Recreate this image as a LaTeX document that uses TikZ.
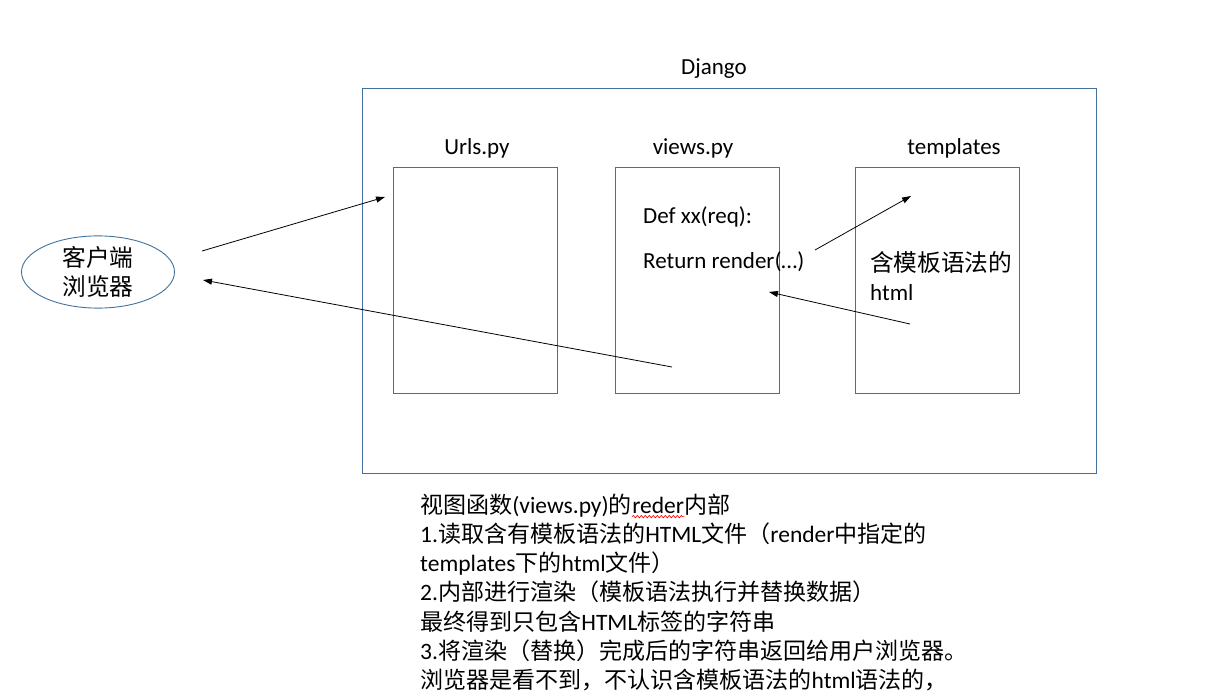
\documentclass[tikz,border=0pt]{standalone}
\usepackage{fontspec}
\setmainfont{Carlito}
\newfontfamily\cjk[Scale=1.03]{Noto Sans CJK SC}
\newfontfamily\cjkb[Scale=0.98]{Noto Sans CJK SC}
\usetikzlibrary{arrows.meta,shapes.geometric,decorations.pathmorphing}
\definecolor{boxblue}{HTML}{41719C}
\newcommand\zh[1]{{\cjk #1}}
\newcommand\zb[1]{{\cjkb #1}}
\tikzset{
  filebox/.style={shape=rectangle, draw=boxblue, line width=0.9pt, inner sep=0, minimum width=164pt, minimum height=226pt},
  title/.style={anchor=center, inner sep=0, font=\fontsize{23}{28}\selectfont},
  code/.style={anchor=west, inner sep=0, font=\fontsize{23}{28}\selectfont},
  wire/.style={-{Triangle[length=9pt,width=6pt]}, line width=0.8pt},
  spellwave/.style={draw=red, line width=0.6pt, decorate, decoration={snake, amplitude=1.2pt, segment length=4pt}},
}
% red spell-check wave under a word
\newcommand\wavyword[1]{\tikz[baseline=(w.base)]{\node[inner sep=0] (w) {#1}; \path[spellwave] ([yshift=-3pt]w.base west) -- ([yshift=-3pt]w.base east);}}
\begin{document}
\begin{tikzpicture}[x=1pt, y=-1pt]
          \useasboundingbox (0, 0) rectangle (1213, 698);
          % Paths, nodes and wires:
          \node[shape=rectangle, draw=boxblue, line width=0.9pt, inner sep=0, minimum width=734pt, minimum height=385pt] (django) at (729, 280.5){};
          \node[title] (djangolbl) at (714, 69){Django};
          \node[filebox] (urls) at (475, 280){};
          \node[filebox] (views) at (697, 280){};
          \node[filebox] (tmpl) at (937, 280){};
          \node[title] (urlslbl) at (477, 148){Urls.py};
          \node[title] (viewslbl) at (693, 148){views.py};
          \node[title] (tmpllbl) at (954, 148){templates};
          \node[shape=ellipse, draw=boxblue, line width=0.9pt, inner sep=0, minimum width=153pt, minimum height=72pt, align=center, font=\fontsize{23}{29}\selectfont] (client) at (98, 272){\zh{客户端}\\\zh{浏览器}};
          \node[code] (def) at (643, 217){Def xx(req):};
          \node[code] (ret) at (643, 262){Return render(…)};
          \node[code, align=left, font=\fontsize{23}{29}\selectfont] (html) at (870, 276){\zh{含模板语法的}\\html};
          \coordinate (cliout) at (202, 251);
          \coordinate (urlsin) at (385, 197);
          \coordinate (viewsout) at (672, 367);
          \coordinate (cliin) at (203, 280);
          \coordinate (renderout) at (815, 250);
          \coordinate (tmplin) at (911, 196);
          \coordinate (tmplout) at (910, 324);
          \coordinate (renderin) at (769, 292);
          \draw[wire] (cliout) -- (urlsin);
          \draw[wire] (viewsout) -- (cliin);
          \draw[wire] (renderout) -- (tmplin);
          \draw[wire] (tmplout) -- (renderin);
          \node[anchor=north west, inner sep=0, align=left, font=\fontsize{23.5}{29.1}\selectfont] (notes) at (420, 494){\zb{视图函数}(views.py)\zb{的}\wavyword{reder}\zb{内部}\\
            1.\zb{读取含有模板语法的}HTML\zb{文件（}render\zb{中指定的}\\
            templates\zb{下的}html\zb{文件）}\\
            2.\zb{内部进行渲染（模板语法执行并替换数据）}\\
            \zb{最终得到只包含}HTML\zb{标签的字符串}\\
            3.\zb{将渲染（替换）完成后的字符串返回给用户浏览器。}\\
            \zb{浏览器是看不到，不认识含模板语法的}html\zb{语法的，}};
        \end{tikzpicture}
\end{document}
